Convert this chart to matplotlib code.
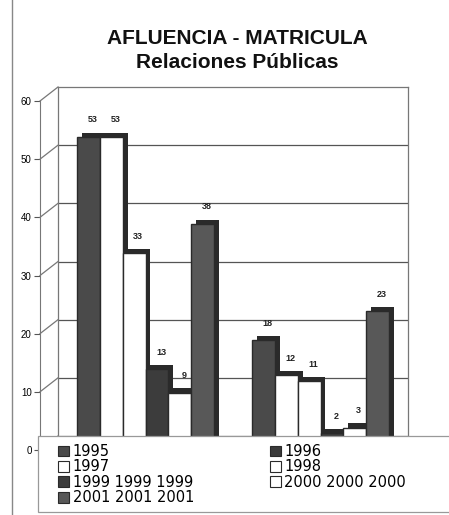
import numpy as np
import matplotlib
matplotlib.use('Agg')
import matplotlib.pyplot as plt
import matplotlib.patheffects as pe
from matplotlib.patches import Patch, Rectangle
from matplotlib.lines import Line2D

plt.rcParams['font.family'] = ['Liberation Sans', 'DejaVu Sans']

# Data (two groups: Afluencia, Matricula)
groups = ['Afluencia', 'Matricula']
series = ['1995', '1996', '1997', '1998', '1999', '2000', '2001']
legend_labels = ['1995', '1996', '1997', '1998', '1999 1999 1999',
                 '2000 2000 2000', '2001 2001 2001']
values = {
    '1995': [53, 18],
    '1996': [np.nan, np.nan],   # no bar drawn for 1996
    '1997': [53, 12],
    '1998': [33, 11],
    '1999': [13, 2],
    '2000': [9, 3],
    '2001': [38, 23],
}
colors = {
    '1995': '#4a4a4a', '1996': '#3a3a3a', '1997': 'white', '1998': 'white',
    '1999': '#3c3c3c', '2000': 'white', '2001': '#585858',
}

W, H = 449, 515
fig = plt.figure(figsize=(W / 100, H / 100), dpi=100)

def fx(x):
    return x / W

def fy(y):
    return 1 - y / H

# back wall
ax_back = fig.add_axes([fx(58), fy(436), (408 - 58) / W, (436 - 87) / H])
ax_back.set_xlim(-0.5, 1.5)
ax_back.set_ylim(0, 60)
ax_back.set_xticks([])
ax_back.set_yticks([])
for v in range(10, 60, 10):
    ax_back.axhline(v, color='#555555', lw=0.9)
for s in ax_back.spines.values():
    s.set_color('#777777')
    s.set_linewidth(0.9)

# front value axis
ax_front = fig.add_axes([fx(40), fy(450), 0.001, (450 - 101) / H])
ax_front.set_ylim(0, 60)
ax_front.set_xticks([])
ax_front.set_yticks(range(0, 70, 10))
ax_front.tick_params(axis='y', labelsize=7, length=4, color='#555555', pad=2)
for k in ['top', 'right', 'bottom']:
    ax_front.spines[k].set_visible(False)
ax_front.spines['left'].set_color('#777777')
ax_front.patch.set_visible(False)

inv = fig.transFigure.inverted()
for v in range(0, 70, 10):
    p1 = inv.transform(ax_front.transData.transform((0, v)))
    p2 = inv.transform(ax_back.transData.transform((-0.5, v)))
    fig.add_artist(Line2D([p1[0], p2[0]], [p1[1], p2[1]], color='#777777', lw=0.9))

# bars
ax_bar = fig.add_axes([fx(58), fy(445), (408 - 58) / W, (436 - 87) / H])
ax_bar.set_xlim(-0.5, 1.5)
ax_bar.set_ylim(0, 60)
ax_bar.axis('off')

drawn = [s for s in series if not np.all(np.isnan(values[s]))]
bw = 0.13
x = np.arange(len(groups))
shadow = [pe.SimplePatchShadow(offset=(3.5, 3), shadow_rgbFace='#2a2a2a', alpha=1.0), pe.Normal()]
for i, s in enumerate(drawn):
    pos = x + (i - (len(drawn) - 1) / 2) * bw
    bars = ax_bar.bar(pos, values[s], bw, color=colors[s], edgecolor='#2a2a2a',
                      lw=1, zorder=2 + 2 * i)
    for b in bars:
        b.set_path_effects(shadow)
    for p, v in zip(pos, values[s]):
        ax_bar.annotate(str(v), (p, v), xytext=(3, 9), textcoords='offset points',
                        ha='center', va='bottom', fontsize=6.5, fontweight='bold',
                        color='#222222', zorder=3 + 2 * i)

# titles
fig.text(0.528, fy(39), 'AFLUENCIA - MATRICULA', ha='center', va='center',
         fontsize=15, fontweight='bold', color='#111111')
fig.text(0.528, fy(63), 'Relaciones Públicas', ha='center', va='center',
         fontsize=15, fontweight='bold', color='#111111')

# outer chart border (left edge)
fig.add_artist(Line2D([fx(12), fx(12)], [0, 1], color='#888888', lw=1))

# legend
fig.add_artist(Rectangle((fx(38), fy(512)), 1.2, (512 - 436) / H,
                         transform=fig.transFigure, facecolor='white',
                         edgecolor='#999999', lw=0.9, zorder=4))
handles = {s: Patch(facecolor=colors[s], edgecolor='#2a2a2a', lw=0.8) for s in series}
order = ['1995', '1997', '1999', '2001', '1996', '1998', '2000']
lab = dict(zip(series, legend_labels))
leg = fig.legend([handles[s] for s in order], [lab[s] for s in order],
                 loc='upper left', bbox_to_anchor=(fx(58), fy(444)), ncol=2,
                 frameon=False, prop={'family': 'DejaVu Sans', 'size': 10.5},
                 handlelength=0.75, handleheight=0.75,
                 handletextpad=0.25, labelspacing=0.03, columnspacing=5.2,
                 borderpad=0, borderaxespad=0)
leg.set_zorder(5)

fig.savefig('out.png', dpi=100)
